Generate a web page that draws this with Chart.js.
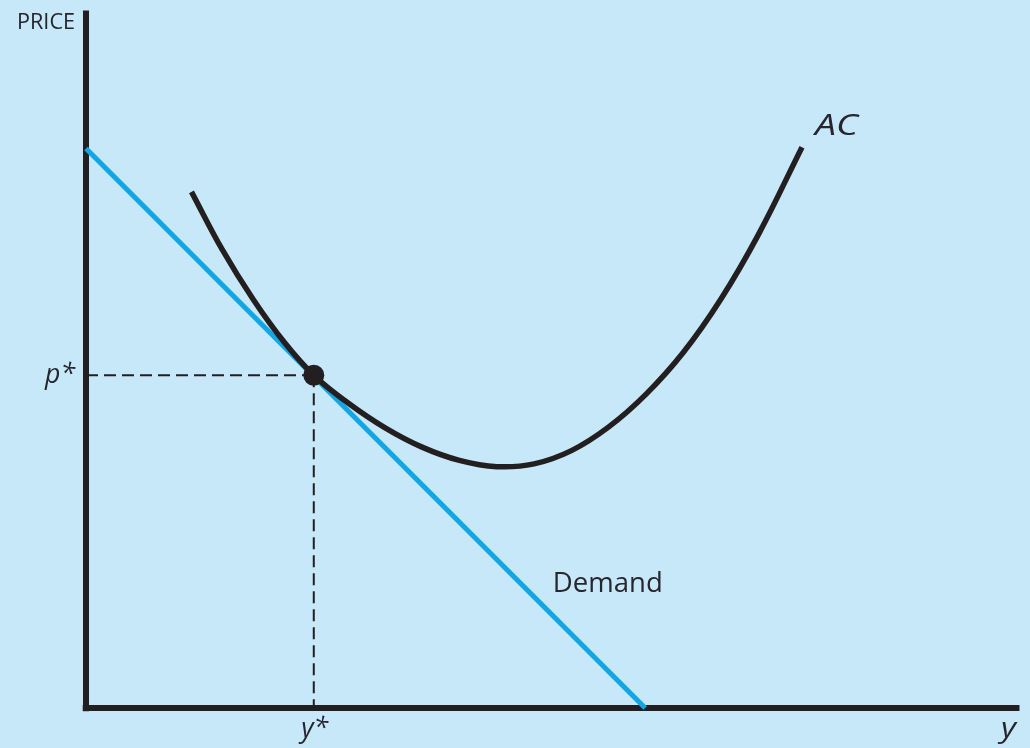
<!DOCTYPE html>
<html>
<head>
<meta charset="utf-8">
<script src="https://cdn.jsdelivr.net/npm/chart.js@4.4.1/dist/chart.umd.min.js"></script>
<style>
  html, body { margin: 0; padding: 0; background: #c6e8f8; }
  #wrap { width: 1030px; height: 748px; }
</style>
</head>
<body>
<div id="wrap"><canvas id="c" width="1030" height="748"></canvas></div>
<script>
// ---- data (economic units) ----
const acX = [1.13, 1.46, 1.79, 2.12, 2.44, 2.80, 3.20, 3.60, 4.00, 4.40, 4.80, 5.20, 5.60, 6.00, 6.40, 6.80, 7.20, 7.67];
const acY = [7.40, 6.57, 5.86, 5.25, 4.77, 4.38, 4.02, 3.74, 3.55, 3.46, 3.50, 3.69, 4.03, 4.50, 5.10, 5.86, 6.78, 8.04];
const demandX = [0, 5.99];
const demandY = [8.02, 0];
const yStar = 2.44;
const pStar = 4.77;
const axisMaxX = 10;
const axisMaxY = 10;
const labels = { price: 'PRICE', pStar: 'p*', yStar: 'y*', y: 'y', ac: 'AC', demand: 'Demand' };

const INK = '#231f20';
const BLUE = '#12a6e4';
const BG = '#c6e8f8';

const pts = (xs, ys) => xs.map((v, i) => ({ x: v, y: ys[i] }));

const bgPlugin = {
  id: 'bg',
  beforeDraw(chart) {
    const ctx = chart.ctx;
    ctx.save();
    ctx.fillStyle = BG;
    ctx.fillRect(0, 0, chart.width, chart.height);
    ctx.restore();
  }
};

function drawLabel(ctx, text, px, py, font, align, targetW) {
  ctx.save();
  ctx.font = font;
  ctx.fillStyle = '#27252d';
  ctx.textBaseline = 'alphabetic';
  const w = ctx.measureText(text).width;
  const sx = targetW ? targetW / w : 1;
  let left = px;
  const realW = w * sx;
  if (align === 'right') left = px - realW;
  else if (align === 'center') left = px - realW / 2;
  ctx.translate(left, py);
  ctx.scale(sx, 1);
  ctx.textAlign = 'left';
  ctx.fillText(text, 0, 0);
  ctx.restore();
}

const textPlugin = {
  id: 'texts',
  afterDatasetsDraw(chart) {
    const ctx = chart.ctx;
    const xs = chart.scales.x, ys = chart.scales.y;
    const X = v => xs.getPixelForValue(v);
    const Y = v => ys.getPixelForValue(v);
    const x0 = X(0), y0 = Y(0);
    const top = chart.chartArea.top;
    const sans = '"Open Sans", "DejaVu Sans", sans-serif';
    drawLabel(ctx, labels.price, x0 - 11, top + 18, '21px ' + sans, 'right', 58);
    drawLabel(ctx, labels.pStar, x0 - 11, Y(pStar) + 8, 'italic 27px ' + sans, 'right', 30);
    drawLabel(ctx, labels.yStar, X(yStar) + 1, y0 + 29, 'italic 27px ' + sans, 'center', 27);
    drawLabel(ctx, labels.y, X(axisMaxX) - 11, y0 + 29, 'italic 27px ' + sans, 'center', 15);
    const ex = X(acX[acX.length - 1]), ey = Y(acY[acY.length - 1]);
    drawLabel(ctx, labels.ac, ex + 13, ey - 12, 'italic 30px ' + sans, 'left', 43);
    drawLabel(ctx, labels.demand, X(5.0), Y(1.66), '28px ' + sans, 'left', 110);
  }
};

new Chart(document.getElementById('c'), {
  type: 'scatter',
  data: {
    datasets: [
      { // equilibrium point
        data: [{ x: yStar, y: pStar }],
        showLine: false, pointRadius: 10.5, pointHoverRadius: 10.5,
        backgroundColor: INK, borderColor: INK, borderWidth: 0,
        order: 0, clip: false
      },
      { // AC curve
        data: pts(acX, acY),
        showLine: true, borderColor: INK, borderWidth: 5.5, pointRadius: 0,
        tension: 0.4, borderCapStyle: 'butt', borderJoinStyle: 'round',
        order: 1, clip: false
      },
      { // horizontal dashed
        data: [{ x: 0, y: pStar }, { x: yStar, y: pStar }],
        showLine: true, borderColor: INK, borderWidth: 2, borderDash: [12, 6],
        pointRadius: 0, order: 3, clip: false
      },
      { // vertical dashed
        data: [{ x: yStar, y: pStar }, { x: yStar, y: 0 }],
        showLine: true, borderColor: INK, borderWidth: 2, borderDash: [12, 6],
        pointRadius: 0, order: 3, clip: false
      },
      { // demand
        data: pts(demandX, demandY),
        showLine: true, borderColor: BLUE, borderWidth: 5, pointRadius: 0,
        borderCapStyle: 'butt', order: 2, clip: false
      },
      { // y axis
        data: [{ x: 0, y: -0.045 }, { x: 0, y: axisMaxY }],
        showLine: true, borderColor: INK, borderWidth: 6, pointRadius: 0,
        order: 4, clip: false
      },
      { // x axis
        data: [{ x: -0.035, y: 0 }, { x: axisMaxX, y: 0 }],
        showLine: true, borderColor: INK, borderWidth: 6, pointRadius: 0,
        order: 4, clip: false
      }
    ]
  },
  options: {
    responsive: false,
    animation: false,
    events: [],
    layout: { padding: { left: 86, right: 7, top: 10, bottom: 40 } },
    plugins: { legend: { display: false }, tooltip: { enabled: false } },
    scales: {
      x: { type: 'linear', min: 0, max: axisMaxX, display: false },
      y: { type: 'linear', min: 0, max: axisMaxY, display: false }
    }
  },
  plugins: [bgPlugin, textPlugin]
});
</script>
</body>
</html>
